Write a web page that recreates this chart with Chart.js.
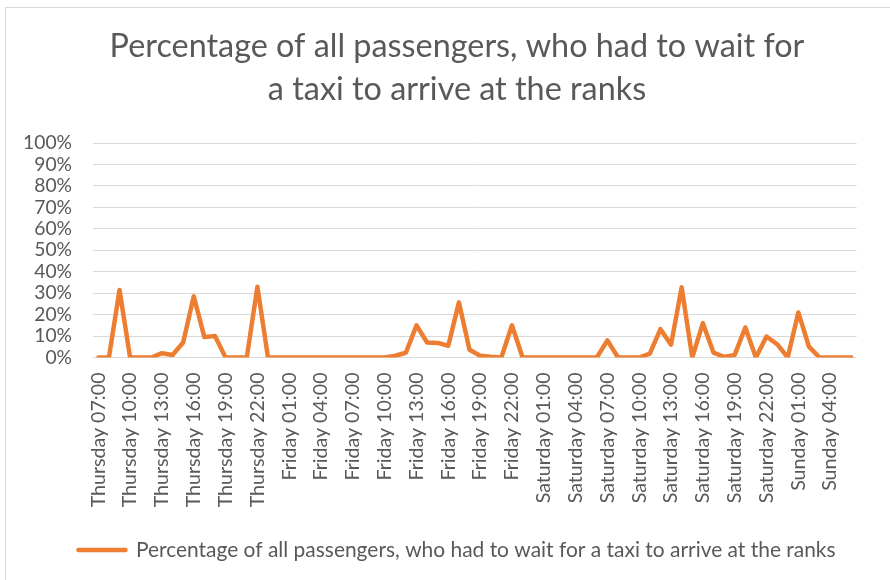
<!DOCTYPE html>
<html>
<head>
<meta charset="utf-8">
<script src="https://cdn.jsdelivr.net/npm/chart.js@4.4.1/dist/chart.umd.min.js"></script>
<style>
html,body{margin:0;padding:0;background:#ffffff;}
#wrap{width:890px;height:580px;position:relative;}
canvas{display:block;}
</style>
</head>
<body>
<div id="wrap"><canvas id="c" width="890" height="580"></canvas></div>
<script>
// ---- data ----
const days = ['Thursday', 'Friday', 'Saturday', 'Sunday'];
const dayFirstHour = [7, 0, 0, 0];
const dayLastHour = [23, 23, 23, 6];
const values = [
  0, 0, 31.5, 0, 0, 0, 2, 1.2, 7, 28.5, 9.5, 10, 0, 0, 0, 33, 0,          // Thu 07-23
  0, 0, 0, 0, 0, 0, 0, 0, 0, 0, 0, 0.8, 2.2, 15, 7, 6.8, 5.5, 25.7, 3.6, 0.8, 0.3, 0, 15, 0, // Fri 00-23
  0, 0, 0, 0, 0, 0, 0, 8, 0, 0, 0, 1.8, 13.2, 6, 32.7, 0, 16, 2.3, 0.3, 1.2, 14, 0, 9.8, 6.2, // Sat 00-23
  0, 21, 5.1, 0, 0, 0, 0                                                    // Sun 00-06
];
const yTickValues = [0, 10, 20, 30, 40, 50, 60, 70, 80, 90, 100];
const labelEvery = 3;
const titleLines = ['Percentage of all passengers, who had to wait for', 'a taxi to arrive at the ranks'];
const seriesName = 'Percentage of all passengers, who had to wait for a taxi to arrive at the ranks';

const categories = [];
days.forEach((d, i) => {
  for (let h = dayFirstHour[i]; h <= dayLastHour[i]; h++) {
    categories.push(d + ' ' + String(h).padStart(2, '0') + ':00');
  }
});

// ---- style / layout ----
const FAMILY = 'Lato, "Open Sans", sans-serif';
const TEXT = '#595959';
const GRID = '#d9d9d9';
const ORANGE = '#ED7D31';

const mctx = document.createElement('canvas').getContext('2d');
function fit(text, target) {
  mctx.font = 'normal 100px ' + FAMILY;
  return 100 * target / mctx.measureText(text).width;
}
const titleSize = fit(titleLines[0], 695);
const legendSize = fit(seriesName, 700);
const yTickSize = fit('100%', 49);
const xTickSize = fit('Thursday 07:00', 135);

const AREA_LEFT = 93, AREA_RIGHT = 877, AREA_TOP = 143, AREA_BOTTOM = 357;
const PAD_L = 0, PAD_R = 890 - AREA_RIGHT;
const TEXT_CENTER_X = 457;
const TITLE_LH = 42.5;
const titlePadTop = 59.3 - 0.387 * titleSize - TITLE_LH / 2;
const titlePadBottom = AREA_TOP - titlePadTop - 2 * TITLE_LH;
const LEGEND_MID = 546, LEGEND_PAD = 4;
const legendItemH = legendSize;
const legendTop = LEGEND_MID - LEGEND_PAD - legendItemH / 2;
const legendBottom = legendTop + 2 * LEGEND_PAD + legendItemH + 10;
const PAD_B = 580 - legendBottom;
const X_AXIS_H = legendTop - AREA_BOTTOM + 3.5;

const framePlugin = {
  id: 'frame',
  afterLayout(chart) {
    // centre the title and legend blocks on the same axis as the reference
    [chart.titleBlock, chart.legend].forEach(b => {
      if (!b) return;
      const shift = TEXT_CENTER_X - (b.left + b.right) / 2;
      b.left += shift;
      b.right += shift;
    });
  },
  beforeDraw(chart) {
    const ctx = chart.ctx;
    ctx.save();
    ctx.fillStyle = '#ffffff';
    ctx.fillRect(0, 0, chart.width, chart.height);
    ctx.strokeStyle = GRID;
    ctx.lineWidth = 1;
    ctx.strokeRect(5.5, 7.5, 900, 600);
    ctx.restore();
  }
};

new Chart(document.getElementById('c'), {
  type: 'line',
  data: {
    labels: categories,
    datasets: [{
      label: seriesName,
      data: values,
      borderColor: ORANGE,
      backgroundColor: ORANGE,
      borderWidth: 4.5,
      borderJoinStyle: 'round',
      borderCapStyle: 'round',
      pointRadius: 0,
      pointHoverRadius: 0,
      tension: 0,
      fill: false
    }]
  },
  options: {
    responsive: false,
    animation: false,
    devicePixelRatio: 1,
    layout: { padding: { left: PAD_L, right: PAD_R, top: 0, bottom: PAD_B } },
    plugins: {
      title: {
        display: true,
        text: titleLines,
        color: TEXT,
        font: { family: FAMILY, size: titleSize, weight: 'normal', lineHeight: TITLE_LH / titleSize },
        padding: { top: titlePadTop, bottom: titlePadBottom }
      },
      legend: {
        display: true,
        position: 'bottom',
        labels: {
          color: TEXT,
          font: { family: FAMILY, size: legendSize, weight: 'normal' },
          usePointStyle: true,
          pointStyle: 'line',
          pointStyleWidth: 47,
          padding: LEGEND_PAD,
          generateLabels(chart) {
            return [{
              text: seriesName,
              fillStyle: ORANGE,
              strokeStyle: ORANGE,
              lineWidth: 4.5,
              lineCap: 'round',
              pointStyle: 'line',
              hidden: false,
              datasetIndex: 0,
              fontColor: TEXT
            }];
          }
        }
      },
      tooltip: { enabled: false }
    },
    scales: {
      x: {
        type: 'category',
        offset: true,
        grid: { display: false, drawTicks: false },
        border: { display: false },
        ticks: {
          autoSkip: false,
          minRotation: 90,
          maxRotation: 90,
          padding: 15,
          color: TEXT,
          font: { family: FAMILY, size: xTickSize },
          callback: (v, i) => (i % labelEvery === 0 ? categories[i] : '')
        },
        afterFit(scale) { scale.height = X_AXIS_H; }
      },
      y: {
        min: 0,
        max: 100,
        afterBuildTicks(scale) { scale.ticks = yTickValues.map(v => ({ value: v })); },
        grid: { color: GRID, lineWidth: 1, drawTicks: false },
        border: { display: false },
        ticks: {
          autoSkip: false,
          padding: 21,
          color: TEXT,
          font: { family: FAMILY, size: yTickSize },
          callback: v => v + '%'
        },
        afterFit(scale) { scale.width = AREA_LEFT - PAD_L; }
      }
    }
  },
  plugins: [framePlugin]
});
</script>
</body>
</html>
